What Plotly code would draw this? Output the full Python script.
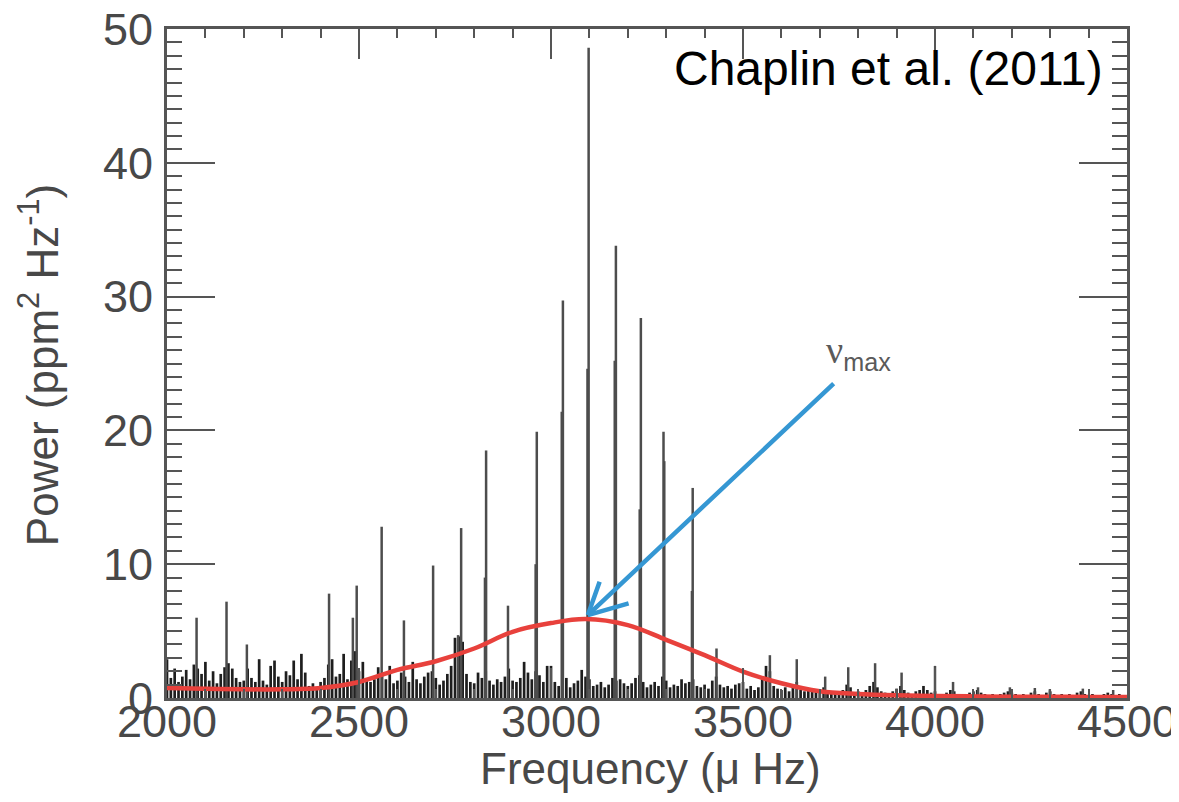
import plotly.graph_objects as go

# ---------------- data ----------------
# resolved oscillation mode spikes: frequency (µHz) and power (ppm^2/µHz)
peak_freq = [2077, 2155, 2208, 2422, 2484, 2494, 2559, 2617, 2693, 2758, 2766,
             2828, 2831, 2888, 2960, 2963, 3028, 3031, 3095, 3098, 3166, 3169,
             3231, 3234, 3293, 3295, 3367, 3369, 3431, 3570, 3640, 3714, 3774,
             3844, 3913, 4000, 4047, 4112, 4195, 4260, 4299, 4385, 4464]
peak_power = [6.0, 7.2, 4.0, 7.8, 6.0, 8.4, 12.8, 5.8, 9.9, 4.7, 12.7,
              9.0, 18.5, 6.9, 10.0, 19.9, 21.4, 29.7, 24.6, 48.6, 25.2, 33.8,
              14.1, 28.4, 19.9, 17.7, 8.0, 15.7, 3.7, 3.2, 2.9, 1.6, 2.3,
              2.6, 1.9, 2.4, 1.2, 0.8, 0.8, 0.75, 0.65, 0.7, 0.6]

# background noise, sampled every 10 µHz from 2000 to 4500
noise_start = 2000
noise_step = 10
noise_power = [
    2.9, 1.5, 2.2, 1.2, 1.6, 2.1, 1.4, 2.5, 2.2, 1.8,   # 2000
    2.7, 1.3, 2.0, 1.1, 1.8, 2.3, 2.6, 2.2, 1.5, 1.2,   # 2100
    1.3, 2.2, 1.5, 1.2, 2.9, 1.3, 1.0, 2.4, 2.8, 1.6,   # 2200
    1.2, 2.0, 1.7, 2.8, 1.4, 3.3, 1.9, 0.9, 1.1, 0.8,   # 2300
    1.2, 1.5, 2.5, 2.9, 1.6, 1.8, 3.3, 1.4, 2.8, 3.5,   # 2400
    2.0, 2.7, 1.5, 1.2, 1.4, 2.3, 1.8, 1.4, 2.4, 1.1,   # 2500
    1.3, 1.9, 1.6, 1.2, 2.7, 1.4, 1.1, 1.6, 1.9, 2.0,   # 2600
    1.5, 1.0, 1.3, 1.8, 2.4, 4.5, 4.6, 4.2, 1.8, 1.2,   # 2700
    1.1, 1.9, 1.5, 2.0, 1.3, 1.0, 1.4, 1.2, 1.6, 2.2,   # 2800
    1.3, 1.2, 1.5, 2.7, 1.9, 1.4, 2.0, 1.7, 1.2, 2.4,   # 2900
    2.4, 1.2, 0.9, 2.0, 1.5, 0.8, 1.1, 1.3, 2.1, 1.6,   # 3000
    1.4, 0.9, 1.0, 1.2, 0.8, 1.0, 1.5, 1.3, 1.4, 1.1,   # 3100
    0.9, 1.1, 1.5, 1.7, 1.2, 0.8, 1.0, 1.2, 0.9, 1.6,   # 3200
    1.3, 0.8, 1.0, 0.9, 1.4, 1.1, 1.2, 1.4, 0.9, 0.8,   # 3300
    1.0, 0.7, 1.3, 1.6, 1.0, 0.8, 0.9, 0.7, 1.0, 1.1,   # 3400
    1.2, 0.7, 0.9, 0.6, 0.8, 1.5, 2.4, 2.0, 0.9, 0.7,   # 3500
    0.6, 0.8, 0.5, 1.0, 1.2, 0.6, 0.5, 0.7, 0.5, 0.6,   # 3600
    0.5, 0.8, 0.6, 0.4, 0.5, 0.4, 0.6, 1.0, 0.8, 0.4,   # 3700
    0.5, 0.3, 0.6, 0.9, 1.2, 0.8, 0.5, 0.4, 0.3, 0.5,   # 3800
    0.7, 0.9, 0.6, 0.4, 0.3, 0.5, 0.6, 0.9, 0.6, 0.4,   # 3900
    0.5, 0.3, 0.2, 0.4, 0.6, 0.5, 0.3, 0.2, 0.3, 0.4,   # 4000
    0.5, 0.6, 0.4, 0.3, 0.2, 0.3, 0.2, 0.3, 0.4, 0.5,   # 4100
    0.4, 0.3, 0.2, 0.3, 0.2, 0.4, 0.5, 0.3, 0.2, 0.4,   # 4200
    0.5, 0.3, 0.2, 0.3, 0.2, 0.3, 0.2, 0.4, 0.5, 0.3,   # 4300
    0.2, 0.3, 0.2, 0.2, 0.3, 0.4, 0.3, 0.2, 0.3, 0.2,   # 4400
    0.2,                                                # 4500
]
noise_freq = [noise_start + i * noise_step for i in range(len(noise_power))]

# smoothed power envelope (red curve)
envelope_freq = [2000, 2100, 2200, 2300, 2400, 2500, 2600, 2700, 2800, 2900,
                 3000, 3090, 3200, 3300, 3400, 3500, 3600, 3700, 3800, 3900,
                 4000, 4100, 4200, 4300, 4400, 4500]
envelope_power = [0.75, 0.7, 0.65, 0.65, 0.75, 1.2, 2.1, 2.75, 3.7, 4.95,
                  5.6, 5.9, 5.45, 4.35, 3.2, 1.97, 1.1, 0.5, 0.3, 0.2,
                  0.15, 0.12, 0.1, 0.1, 0.08, 0.08]

x_ticks = [2000, 2500, 3000, 3500, 4000, 4500]
y_ticks = [0, 10, 20, 30, 40, 50]

# nu_max arrow (data units): tip, tail and the two open-head barb ends
numax_freq, numax_power = 3096, 6.2
arrow_tail = (3740, 23.6)
arrow_barbs = [(3128, 8.8), (3206, 7.1)]
numax_label = (3800, 25.8)

# ---------------- figure ----------------
FONT = "Liberation Sans, Arial, Helvetica, sans-serif"
AXIS_GRAY = "#555555"
TEXT_GRAY = "#484848"
BLUE = "#3597d3"

fig = go.Figure()

# noise floor drawn as dense stems
nx, ny = [], []
for f, p in zip(noise_freq, noise_power):
    nx += [f, f, None]
    ny += [0, p, None]
fig.add_trace(go.Scatter(
    x=nx, y=ny, mode="lines",
    line=dict(color="#1e1e1e", width=2.7),
    hoverinfo="skip", showlegend=False))

# spikes
sx, sy = [], []
for f, p in zip(peak_freq, peak_power):
    sx += [f, f, None]
    sy += [0, p, None]
fig.add_trace(go.Scatter(
    x=sx, y=sy, mode="lines",
    line=dict(color="#4d4d4d", width=2.5),
    hoverinfo="skip", showlegend=False))

# envelope
fig.add_trace(go.Scatter(
    x=envelope_freq, y=envelope_power, mode="lines",
    line=dict(color="#e8413c", width=4.5, shape="spline"),
    hoverinfo="skip", showlegend=False))

# arrow shaft and open head
fig.add_annotation(
    x=numax_freq, y=numax_power, xref="x", yref="y",
    ax=arrow_tail[0], ay=arrow_tail[1], axref="x", ayref="y",
    text="", showarrow=True, arrowhead=0, arrowwidth=4.5,
    arrowcolor=BLUE, standoff=0, startstandoff=0)
for bx, by in arrow_barbs:
    fig.add_annotation(
        x=numax_freq, y=numax_power, xref="x", yref="y",
        ax=bx, ay=by, axref="x", ayref="y",
        text="", showarrow=True, arrowhead=0, arrowwidth=4.5,
        arrowcolor=BLUE, standoff=0, startstandoff=0)

fig.add_annotation(
    x=numax_label[0], y=numax_label[1], xref="x", yref="y", showarrow=False,
    text="<span style='font-family:Liberation Serif;font-size:38px'>ν</span>"
         "<sub>max</sub>",
    font=dict(family=FONT, size=36, color="#5a5a5a"),
    xanchor="center", yanchor="middle")

fig.add_annotation(
    x=0.977, y=0.984, xref="paper", yref="paper", showarrow=False,
    text="Chaplin et al. (2011)",
    font=dict(family=FONT, size=48, color="#000000"),
    xanchor="right", yanchor="top")

# axis titles
fig.add_annotation(
    x=0.504, y=-0.105, xref="paper", yref="paper", showarrow=False,
    text="Frequency (μ Hz)",
    font=dict(family=FONT, size=44, color=TEXT_GRAY),
    xanchor="center", yanchor="middle")
fig.add_annotation(
    x=-0.133, y=0.498, xref="paper", yref="paper", showarrow=False,
    text="Power (ppm<sup>2</sup> Hz<sup>-1</sup>)", textangle=-90,
    font=dict(family=FONT, size=44, color=TEXT_GRAY),
    xanchor="center", yanchor="middle")

axis_common = dict(
    showline=True, linecolor=AXIS_GRAY, linewidth=3, mirror="ticks",
    ticks="inside", tickcolor=AXIS_GRAY, tickwidth=2,
    showgrid=False, zeroline=False, automargin=False,
    ticklabeloverflow="allow",
    tickfont=dict(family=FONT, size=45, color=TEXT_GRAY),
)

fig.update_xaxes(
    range=[2000, 4500], tickvals=x_ticks, ticklen=30, ticklabelstandoff=-18,
    minor=dict(dtick=100, ticklen=9, tickwidth=2, tickcolor=AXIS_GRAY,
               ticks="inside", showgrid=False),
    **axis_common)

fig.update_yaxes(
    range=[0, 50], tickvals=y_ticks, ticklen=48, ticklabelstandoff=2,
    minor=dict(dtick=1, ticklen=15, tickwidth=2, tickcolor=AXIS_GRAY,
               ticks="inside", showgrid=False),
    **axis_common)

# page body adds an 8 px offset, so the figure is 8 px smaller than the window
fig.update_layout(
    width=1171, height=794,
    margin=dict(l=159, r=52, t=21, b=104),
    paper_bgcolor="white", plot_bgcolor="white",
    showlegend=False,
)

fig.write_html("out.html")
